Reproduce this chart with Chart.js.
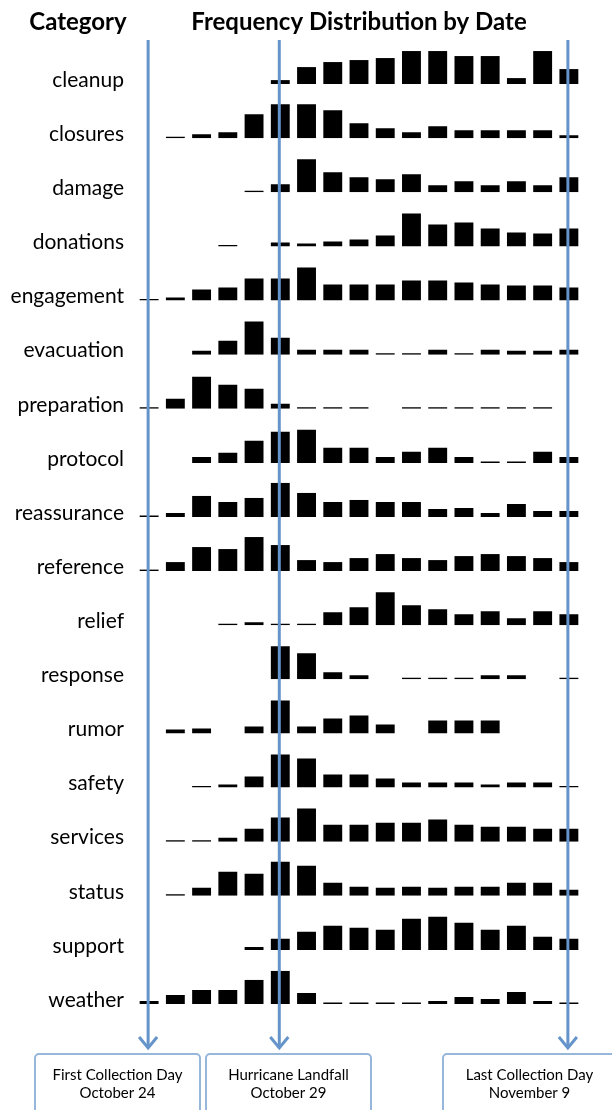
<!DOCTYPE html>
<html>
<head>
<meta charset="utf-8">
<script src="https://cdn.jsdelivr.net/npm/chart.js@4.4.1/dist/chart.umd.min.js"></script>
<style>
  html, body { margin: 0; padding: 0; background: #fff; }
  #wrap { width: 612px; height: 1110px; position: relative; }
</style>
</head>
<body>
<div id="wrap"><canvas id="chart"></canvas></div>
<script>
// dates on the x axis (one column per day)
const dates = ['Oct 24', 'Oct 25', 'Oct 26', 'Oct 27', 'Oct 28', 'Oct 29', 'Oct 30', 'Oct 31',
  'Nov 1', 'Nov 2', 'Nov 3', 'Nov 4', 'Nov 5', 'Nov 6', 'Nov 7', 'Nov 8', 'Nov 9'];

const categories = ['cleanup', 'closures', 'damage', 'donations', 'engagement', 'evacuation',
  'preparation', 'protocol', 'reassurance', 'reference', 'relief', 'response', 'rumor',
  'safety', 'services', 'status', 'support', 'weather'];

// relative frequency per day, one array per category
const cleanup = [null, null, null, null, null, 4, 17, 22, 24, 26, 33, 33, 28, 28, 6, 33, 15];
const closures = [null, 1.5, 4, 6, 24, 34, 34, 28, 15, 10, 6, 12, 8, 8, 8, 8, 3];
const damage = [null, null, null, null, 1.5, 8, 33, 20, 15, 13, 18, 7, 11, 7, 11, 7, 15];
const donations = [null, null, null, 1.5, null, 4, 3, 5, 7, 11, 33, 22, 24, 18, 14, 13, 18];
const engagement = [1.5, 3, 11, 13, 22, 22, 33, 16, 16, 16, 20, 20, 18, 16, 15, 15, 13];
const evacuation = [null, null, 4, 14, 33, 17, 5, 5, 5, 1.5, 1.5, 5, 1.5, 5, 4, 4, 5];
const preparation = [1.5, 10, 32, 24, 20, 5, 1.5, 1.5, 1.5, null, 1.5, 1.5, 1.5, 1.5, 1.5, 1.5, null];
const protocol = [null, null, 6, 10, 22, 31, 33, 15, 15, 6, 11, 15, 6, 1.5, 1.5, 11, 6];
const reassurance = [1.5, 4, 21, 15, 19, 34, 24, 15, 17, 15, 15, 8, 9, 4, 13, 6, 6];
const reference = [1.5, 9, 24, 22, 34, 26, 11, 9, 13, 17, 13, 11, 15, 17, 15, 13, 9];
const relief = [null, null, null, 1.5, 3, 1.5, 1.5, 13, 18, 33, 20, 16, 11, 14, 7, 14, 11];
const response = [null, null, null, null, null, 33, 26, 7, 4, null, 1.5, 1.5, 1.5, 4, 4, null, 1.5];
const rumor = [null, 4, 5, null, 7, 33, 7, 15, 18, 9, null, 13, 13, 13, null, null, null];
const safety = [null, null, 1.5, 3, 11, 33, 29, 13, 13, 9, 5, 5, 5, 3, 5, 5, 1.5];
const services = [null, 1.5, 1.5, 4, 13, 24, 33, 17, 17, 19, 19, 22, 17, 15, 15, 13, 13];
const status = [null, 1.5, 8, 24, 22, 34, 30, 13, 9, 8, 9, 8, 9, 9, 13, 13, 6];
const support = [null, null, null, null, 3, 11, 18, 24, 22, 20, 31, 33, 27, 20, 24, 13, 11];
const weather = [3, 9, 14, 14, 24, 33, 11, 1.5, 1.5, 1.5, 1.5, 3, 7, 5, 12, 3, 1.5];

const series = [cleanup, closures, damage, donations, engagement, evacuation, preparation,
  protocol, reassurance, reference, relief, response, rumor, safety, services, status,
  support, weather];

// event markers below the chart
const markerDates = ['Oct 24', 'Oct 29', 'Nov 9'];
const markerTitles = ['First Collection Day', 'Hurricane Landfall', 'Last Collection Day'];
const markerDays = ['October 24', 'October 29', 'November 9'];

const FONT = 'Lato, "Open Sans", sans-serif';
const ROW_MAX = 54;
const arrowBlue = 'rgb(100, 148, 202)';
const boxBlue = 'rgb(150, 182, 218)';

// one stacked y axis per category row
const scales = {
  x: { type: 'category', display: false, offset: true }
};
categories.forEach((cat, i) => {
  scales['y' + i] = {
    type: 'linear',
    position: 'left',
    stack: 'rows',
    stackWeight: 1,
    weight: categories.length - i,
    min: 0,
    max: ROW_MAX,
    grid: { display: false, drawTicks: false },
    border: { display: false },
    afterBuildTicks: s => { s.ticks = [{ value: 4 }]; },
    afterFit: s => { s.width = 136; },
    ticks: {
      padding: 12,
      color: '#000',
      font: { family: FONT, size: 21 },
      callback: () => cat
    }
  };
});

const datasets = series.map((vals, i) => ({
  label: categories[i],
  data: vals,
  yAxisID: 'y' + i,
  backgroundColor: '#000',
  borderWidth: 0,
  grouped: false,
  barPercentage: 0.72,
  categoryPercentage: 1
}));

const decorations = {
  id: 'decorations',
  afterDraw(chart) {
    const ctx = chart.ctx;
    const x = chart.scales.x;
    ctx.save();

    // headings
    ctx.fillStyle = '#000';
    ctx.font = 'bold 24px ' + FONT;
    ctx.textAlign = 'center';
    ctx.textBaseline = 'alphabetic';
    ctx.fillText('Category', 78, 30);
    ctx.fillText('Frequency Distribution by Date', (chart.chartArea.left + chart.chartArea.right) / 2, 30);

    // arrows
    ctx.strokeStyle = arrowBlue;
    ctx.lineWidth = 3;
    ctx.lineCap = 'butt';
    markerDates.forEach(d => {
      const px = x.getPixelForValue(dates.indexOf(d)) - 1;
      ctx.beginPath();
      ctx.moveTo(px, 40);
      ctx.lineTo(px, 1048);
      ctx.stroke();
      ctx.beginPath();
      ctx.moveTo(px - 9, 1037);
      ctx.lineTo(px, 1048);
      ctx.lineTo(px + 9, 1037);
      ctx.stroke();
    });

    // label boxes
    const boxes = [[35, 200], [206, 371], [443, 616]];
    ctx.strokeStyle = boxBlue;
    ctx.lineWidth = 2;
    boxes.forEach((b, i) => {
      ctx.beginPath();
      ctx.roundRect(b[0], 1054, b[1] - b[0], 80, 4);
      ctx.stroke();
      const cx = (b[0] + b[1]) / 2;
      ctx.fillStyle = '#000';
      ctx.font = '15px ' + FONT;
      ctx.textBaseline = 'middle';
      ctx.fillText(markerTitles[i], cx, 1075);
      ctx.fillText(markerDays[i], cx, 1093);
    });
    ctx.restore();
  }
};

new Chart(document.getElementById('chart'), {
  type: 'bar',
  data: { labels: dates, datasets },
  options: {
    responsive: true,
    maintainAspectRatio: false,
    animation: false,
    layout: { padding: { top: 30, bottom: 106, right: 30, left: 0 } },
    plugins: { legend: { display: false }, tooltip: { enabled: false } },
    scales
  },
  plugins: [decorations]
});
</script>
</body>
</html>
